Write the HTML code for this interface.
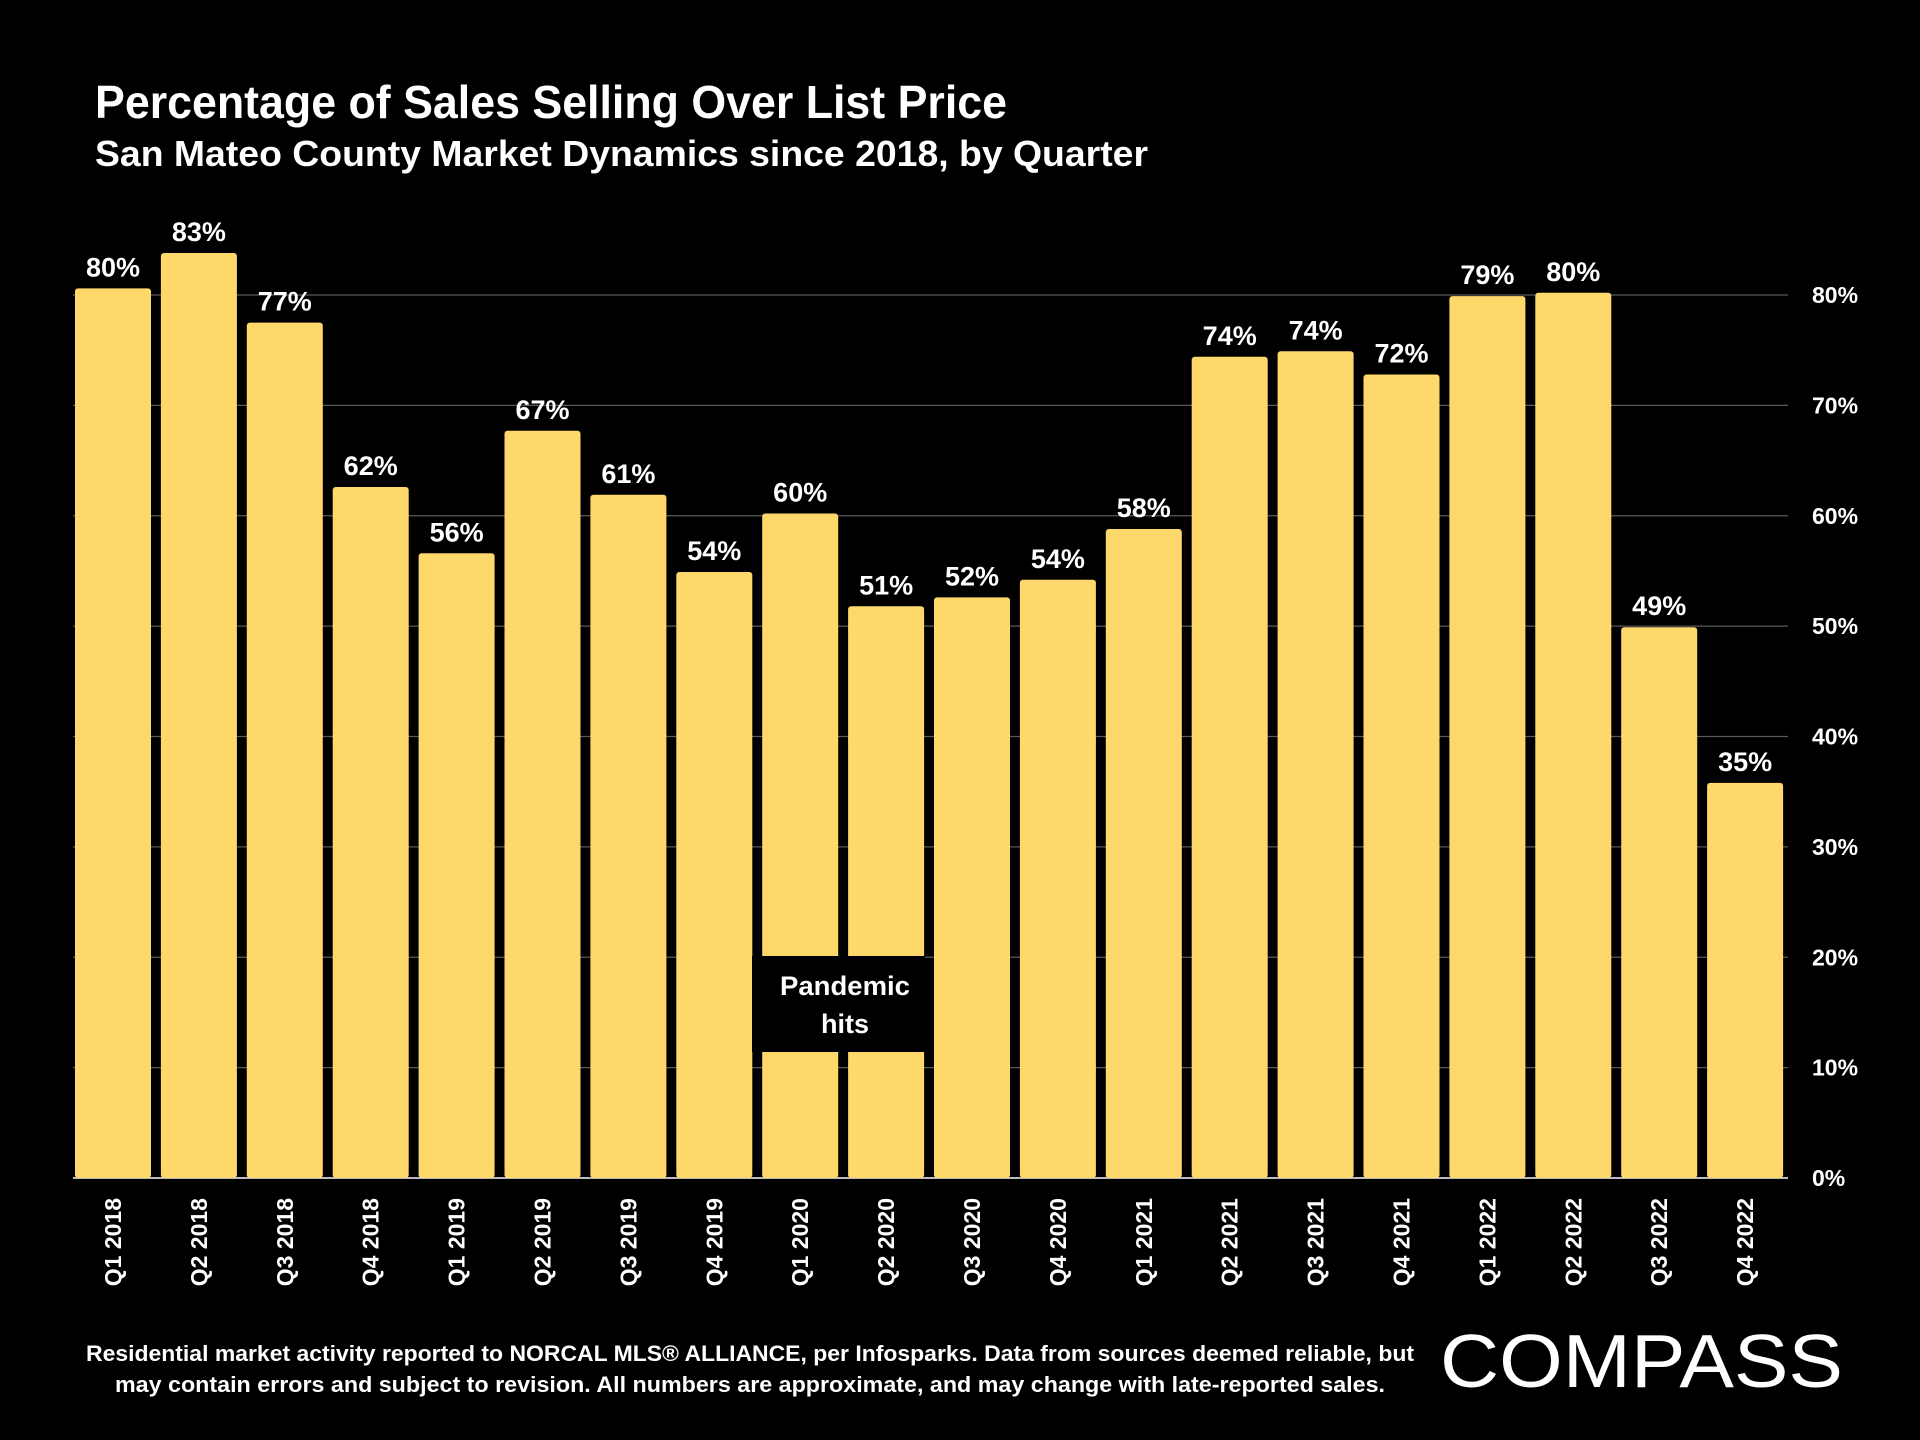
<!DOCTYPE html>
<html><head><meta charset="utf-8">
<style>
html,body{margin:0;padding:0;background:#000;}
svg{display:block;}
text{font-family:"Liberation Sans",sans-serif;fill:#fff;}
</style></head>
<body>
<svg id="chart" width="1920" height="1440" viewBox="0 0 1920 1440" xmlns="http://www.w3.org/2000/svg">
<rect width="1920" height="1440" fill="#000"/>
<text x="95" y="118" font-size="46" font-weight="bold" textLength="912" lengthAdjust="spacingAndGlyphs">Percentage of Sales Selling Over List Price</text>
<text x="95" y="166" font-size="36" font-weight="bold" textLength="1053" lengthAdjust="spacingAndGlyphs">San Mateo County Market Dynamics since 2018, by Quarter</text>
<g id="grid"></g>
<g id="bars"></g>
<g id="labels"></g>
<g id="xaxis"></g>
<g id="yaxis"></g>
<g>
<rect x="752" y="956" width="173" height="96" fill="#000"/>
<text x="845" y="995" font-size="27" font-weight="bold" text-anchor="middle" textLength="130" lengthAdjust="spacingAndGlyphs">Pandemic</text>
<text x="845" y="1033" font-size="27" font-weight="bold" text-anchor="middle">hits</text>
</g>
<text x="750" y="1361" font-size="22" font-weight="bold" text-anchor="middle" textLength="1328" lengthAdjust="spacingAndGlyphs">Residential market activity reported to NORCAL MLS® ALLIANCE, per Infosparks. Data from sources deemed reliable, but</text>
<text x="750" y="1392" font-size="22" font-weight="bold" text-anchor="middle" textLength="1270" lengthAdjust="spacingAndGlyphs">may contain errors and subject to revision. All numbers are approximate, and may change with late-reported sales.</text>
<text x="1440" y="1387" font-size="75" textLength="403" lengthAdjust="spacingAndGlyphs">COMPASS</text>
</svg>
<script>
const categories=["Q1 2018","Q2 2018","Q3 2018","Q4 2018","Q1 2019","Q2 2019","Q3 2019","Q4 2019","Q1 2020","Q2 2020","Q3 2020","Q4 2020","Q1 2021","Q2 2021","Q3 2021","Q4 2021","Q1 2022","Q2 2022","Q3 2022","Q4 2022"];
const values=[80.6,83.8,77.5,62.6,56.6,67.7,61.9,54.9,60.2,51.8,52.6,54.2,58.8,74.4,74.9,72.8,79.9,80.2,49.9,35.8];
const labels=["80%","83%","77%","62%","56%","67%","61%","54%","60%","51%","52%","54%","58%","74%","74%","72%","79%","80%","49%","35%"];
const yTicks=[0,10,20,30,40,50,60,70,80];
const yTickLabels=["0%","10%","20%","30%","40%","50%","60%","70%","80%"];

const NS="http://www.w3.org/2000/svg";
const y0=1178, yPer=(1178-295)/80;
const yScale=v=>y0-v*yPer;
const x0=75, pitch=85.9, bw=76;
const xScale=i=>x0+i*pitch;
function mk(tag,attrs,parent){const e=document.createElementNS(NS,tag);for(const k in attrs)e.setAttribute(k,attrs[k]);parent.appendChild(e);return e;}
const grid=document.getElementById('grid'),bars=document.getElementById('bars'),lab=document.getElementById('labels'),xa=document.getElementById('xaxis'),ya=document.getElementById('yaxis');
yTicks.forEach((t,i)=>{
  const l=mk('line',{x1:73,x2:1788,y1:yScale(t),y2:yScale(t),stroke:t===0?'#bbb':'#595959','stroke-width':t===0?2:1.2},grid);
  
  
  const tx=mk('text',{x:1812,y:yScale(t)+8,'font-size':23,'font-weight':'bold'},ya);
  tx.textContent=yTickLabels[i];
  
  
});
categories.forEach((c,i)=>{
  const x=xScale(i), top=yScale(values[i]);
  const r=mk('rect',{x:x,y:top,width:bw,height:y0-top,fill:'#fed86a',rx:3},bars);
  
  
  const t=mk('text',{x:x+bw/2,y:top-12,'font-size':27,'font-weight':'bold','text-anchor':'middle'},lab);
  t.textContent=labels[i];
  
  
  const cx=x+bw/2+8;
  const xt=mk('text',{x:cx,y:1198,'font-size':23,'font-weight':'bold','text-anchor':'end',transform:`rotate(-90 ${cx} 1198)`},xa);
  xt.textContent=c;
  
  
});
</script>
</body></html>
